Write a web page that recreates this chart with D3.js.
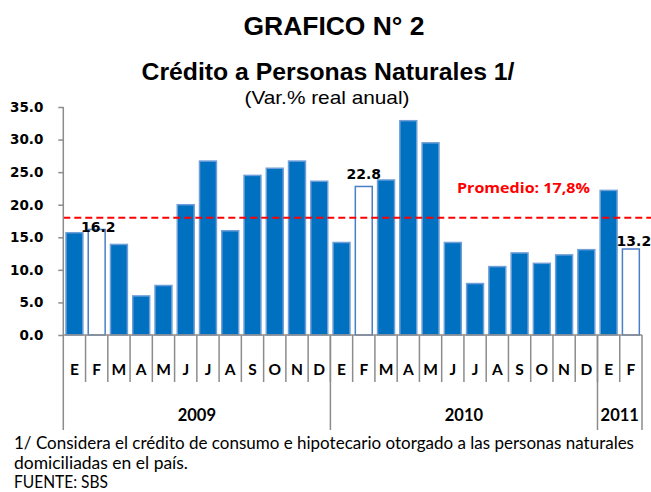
<!DOCTYPE html>
<html><head><meta charset="utf-8">
<script src="https://cdn.jsdelivr.net/npm/d3@7"></script>
<style>body{margin:0;background:#fff}svg{display:block}</style>
</head><body>
<script>
const months = ["E","F","M","A","M","J","J","A","S","O","N","D","E","F","M","A","M","J","J","A","S","O","N","D","E","F"];
const values = [15.7,16.2,13.9,6.0,7.6,20.0,26.7,16.0,24.5,25.6,26.7,23.6,14.2,22.8,23.8,32.9,29.5,14.2,7.9,10.5,12.6,11.0,12.3,13.1,22.2,13.2];
const hollow = [0,1,0,0,0,0,0,0,0,0,0,0,0,1,0,0,0,0,0,0,0,0,0,0,0,1];
const years = ["2009","2010","2011"];
const yearSpan = [[0,12],[12,24],[24,26]];
const yTicks = [0,5,10,15,20,25,30,35];
const avgValue = 18.0;
const avgLabel = "Promedio: 17,8%";
const labelNudge = {1:[1.5,2.5],13:[0,-7],25:[3,-3]};

const W=651,H=492;
const svg=d3.select("body").append("svg").attr("width",W).attr("height",H);
const x=d3.scaleBand().domain(d3.range(values.length)).range([63.3,642]).paddingInner(0.24).paddingOuter(0.12);
const y=d3.scaleLinear().domain([0,35]).range([335,107]);
const step=x.step();
const x0=63.3;

// titles
svg.append("text").attr("x",334).attr("y",35).attr("text-anchor","middle")
 .attr("font-family","Liberation Sans, Arial").attr("font-weight","bold").attr("font-size",25)
 .attr("textLength",181).attr("lengthAdjust","spacingAndGlyphs").text("GRAFICO N° 2");
svg.append("text").attr("x",328).attr("y",80).attr("text-anchor","middle")
 .attr("font-family","Liberation Sans, Arial").attr("font-weight","bold").attr("font-size",23)
 .attr("textLength",373).attr("lengthAdjust","spacingAndGlyphs").text("Crédito a Personas Naturales 1/");
svg.append("text").attr("x",327).attr("y",104).attr("text-anchor","middle")
 .attr("font-family","Liberation Sans, Arial").attr("font-size",18.5)
 .attr("textLength",165).attr("lengthAdjust","spacingAndGlyphs").text("(Var.% real anual)");

// bars
svg.append("g").selectAll("rect").data(values).join("rect")
 .attr("x",(d,i)=>x(i)).attr("width",x.bandwidth())
 .attr("y",d=>y(d)).attr("height",d=>y(0)-y(d))
 .attr("fill",(d,i)=>hollow[i]?"#ffffff":"#0070C0")
 .attr("stroke",(d,i)=>hollow[i]?"#4A7EC8":"#6F9FD8").attr("stroke-width",1.5);

// value labels on hollow bars
svg.append("g").selectAll("text").data(values.map((v,i)=>({v,i})).filter(d=>hollow[d.i])).join("text")
 .attr("x",d=>x(d.i)+x.bandwidth()/2+labelNudge[d.i][0])
 .attr("y",d=>y(d.v)+labelNudge[d.i][1])
 .attr("text-anchor","middle").attr("font-family","DejaVu Sans").attr("font-weight","bold").attr("font-size",14)
 .attr("fill","#000").text(d=>d.v.toFixed(1));

// average line
svg.append("line").attr("x1",x0).attr("x2",W).attr("y1",y(avgValue)).attr("y2",y(avgValue))
 .attr("stroke","#FF0000").attr("stroke-width",1.8).attr("stroke-dasharray","7,4");
svg.append("text").attr("x",457).attr("y",193).attr("font-family","Open Sans").attr("font-weight","bold")
 .attr("font-size",15).attr("fill","#FF0000").attr("textLength",133).attr("lengthAdjust","spacingAndGlyphs").text(avgLabel);

// y axis
const gy=svg.append("g").attr("transform",`translate(${x0},0)`)
 .call(d3.axisLeft(y).tickValues(yTicks).tickFormat(d3.format(".1f")).tickSize(5).tickPadding(15));
gy.select(".domain").remove();
gy.selectAll(".tick line").attr("stroke","#8c8c8c").attr("stroke-width",1.5);
gy.selectAll(".tick text").attr("font-family","DejaVu Sans").attr("font-weight","bold").attr("font-size",13.5).attr("fill","#000");
svg.append("line").attr("x1",x0).attr("x2",x0).attr("y1",107).attr("y2",430).attr("stroke","#8c8c8c").attr("stroke-width",1.5);

// x axis
svg.append("line").attr("x1",x0).attr("x2",642).attr("y1",y(0)).attr("y2",y(0)).attr("stroke","#8c8c8c").attr("stroke-width",1.5);
svg.append("g").selectAll("line").data(d3.range(1,values.length)).join("line")
 .attr("x1",i=>x0+i*step).attr("x2",i=>x0+i*step).attr("y1",y(0)).attr("y2",382)
 .attr("stroke","#8c8c8c").attr("stroke-width",1.5);
svg.append("g").selectAll("text").data(months).join("text")
 .attr("x",(d,i)=>x(i)+x.bandwidth()/2).attr("y",375).attr("text-anchor","middle")
 .attr("font-family","Lato").attr("font-weight","bold").attr("font-size",15.5).attr("fill","#000").text(d=>d);
const yb=[...new Set(yearSpan.flat())].filter(i=>i>0);
svg.append("g").selectAll("line").data(yb).join("line")
 .attr("x1",i=>x0+i*step).attr("x2",i=>x0+i*step).attr("y1",y(0)).attr("y2",430)
 .attr("stroke","#8c8c8c").attr("stroke-width",1.5);
svg.append("g").selectAll("text").data(years).join("text")
 .attr("x",(d,k)=>x0+(yearSpan[k][0]+yearSpan[k][1])/2*step).attr("y",421).attr("text-anchor","middle")
 .attr("font-family","Lato").attr("font-weight","bold").attr("font-size",16.5).attr("fill","#000").text(d=>d);

// footnote
const notes=[["1/ Considera el crédito de consumo e hipotecario otorgado a las personas naturales",449,620],
 ["domiciliadas en el país.",469,174],["FUENTE: SBS",488,94]];
svg.append("g").selectAll("text").data(notes).join("text")
 .attr("x",14).attr("y",d=>d[1]).attr("font-family","Lato").attr("font-size",16.5).attr("fill","#000")
 .attr("textLength",d=>d[2]).attr("lengthAdjust","spacingAndGlyphs").text(d=>d[0]);
</script>
</body></html>
